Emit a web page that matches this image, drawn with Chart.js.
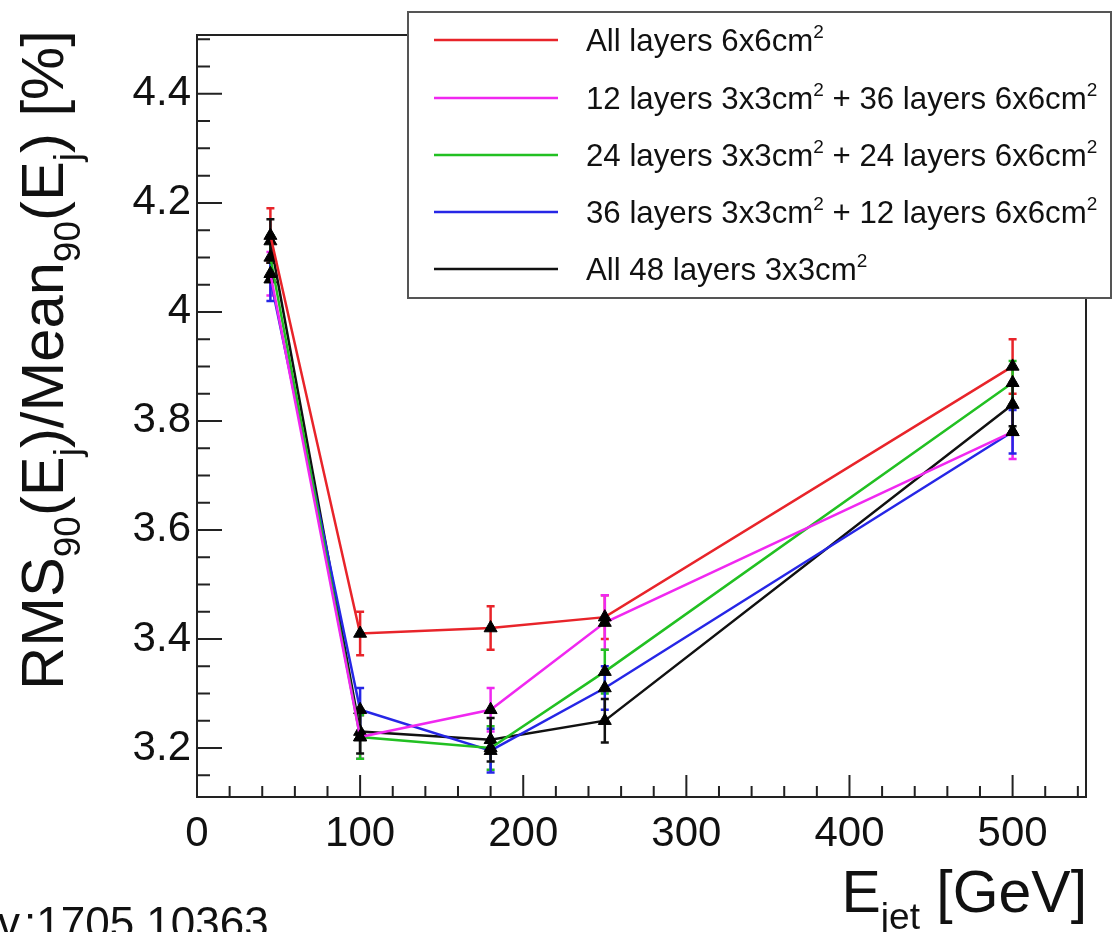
<!DOCTYPE html>
<html><head><meta charset="utf-8">
<script src="https://cdn.jsdelivr.net/npm/chart.js@4.4.1/dist/chart.umd.min.js"></script>
<style>html,body{margin:0;padding:0;background:#fff}#wrap{width:1116px;height:932px;position:relative}canvas{display:block}</style>
</head><body><div id="wrap"><canvas id="c" width="1116" height="932"></canvas></div>
<script>
// ---- data ----
const energies = [45, 100, 180, 250, 500];
const seriesLabels = [
  ['All layers 6x6cm', '2'],
  ['12 layers 3x3cm', '2', ' + 36 layers 6x6cm', '2'],
  ['24 layers 3x3cm', '2', ' + 24 layers 6x6cm', '2'],
  ['36 layers 3x3cm', '2', ' + 12 layers 6x6cm', '2'],
  ['All 48 layers 3x3cm', '2']
];
const allLayers6 = [4.14, 3.41, 3.42, 3.44, 3.90];
const layers12x3 = [4.07, 3.22, 3.27, 3.43, 3.78];
const layers24x3 = [4.10, 3.22, 3.20, 3.34, 3.87];
const layers36x3 = [4.06, 3.27, 3.195, 3.31, 3.78];
const allLayers3 = [4.13, 3.23, 3.215, 3.25, 3.83];
const errAll6 = [0.05, 0.04, 0.04, 0.04, 0.05];
const err12 = [0.04, 0.04, 0.04, 0.05, 0.05];
const err24 = [0.04, 0.04, 0.04, 0.04, 0.04];
const err36 = [0.04, 0.04, 0.04, 0.04, 0.04];
const errAll3 = [0.04, 0.04, 0.04, 0.04, 0.04];
const xTicks = [0, 100, 200, 300, 400, 500];
const yTicks = [3.2, 3.4, 3.6, 3.8, 4.0, 4.2, 4.4];

const seriesValues = [allLayers6, layers12x3, layers24x3, layers36x3, allLayers3];
const seriesErrors = [errAll6, err12, err24, err36, errAll3];
const colors = ['#e8242a', '#f028f0', '#22c022', '#2626e6', '#111111'];
const FONT = '"Liberation Sans", Arial, Helvetica, sans-serif';

const datasets = seriesValues.map((vals, i) => ({
  label: seriesLabels[i].join(''),
  data: energies.map((e, j) => ({x: e, y: vals[j]})),
  borderColor: colors[i],
  backgroundColor: colors[i],
  borderWidth: 2.5,
  pointStyle: 'triangle',
  pointRadius: 7.5,
  pointBackgroundColor: '#000',
  pointBorderColor: '#000',
  pointBorderWidth: 1,
  tension: 0,
  errors: seriesErrors[i]
}));

function drawRich(ctx, segs, x, y, size, align) {
  const widths = segs.map(s => {
    ctx.font = (s.mode === 'n' ? size : Math.round(size * 0.62)) + 'px ' + FONT;
    return ctx.measureText(s.t).width;
  });
  const total = widths.reduce((a, b) => a + b, 0);
  let cx = align === 'right' ? x - total : (align === 'center' ? x - total / 2 : x);
  segs.forEach((s, k) => {
    ctx.font = (s.mode === 'n' ? size : Math.round(size * 0.62)) + 'px ' + FONT;
    let dy = 0;
    if (s.mode === 'sub') dy = size * 0.28;
    if (s.mode === 'sup') dy = -size * 0.42;
    ctx.fillText(s.t, cx, y + dy);
    cx += widths[k];
  });
  return total;
}
function richWidth(ctx, segs, size) {
  let w = 0;
  segs.forEach(s => {
    ctx.font = (s.mode === 'n' ? size : Math.round(size * 0.62)) + 'px ' + FONT;
    w += ctx.measureText(s.t).width;
  });
  return w;
}

const rootPlugin = {
  id: 'rootStyle',
  beforeDatasetsDraw(chart) {
    const ctx = chart.ctx, xs = chart.scales.x, ys = chart.scales.y;
    ctx.save();
    chart.data.datasets.forEach((ds, i) => {
      ctx.strokeStyle = ds.borderColor;
      ctx.lineWidth = 2.5;
      ds.data.forEach((p, j) => {
        const e = ds.errors[j];
        const px = xs.getPixelForValue(p.x);
        const y1 = ys.getPixelForValue(p.y - e), y2 = ys.getPixelForValue(p.y + e);
        ctx.beginPath();
        ctx.moveTo(px, y1); ctx.lineTo(px, y2);
        ctx.moveTo(px - 4, y1); ctx.lineTo(px + 4, y1);
        ctx.moveTo(px - 4, y2); ctx.lineTo(px + 4, y2);
        ctx.stroke();
      });
    });
    ctx.restore();
  },
  afterDraw(chart) {
    const ctx = chart.ctx, xs = chart.scales.x, ys = chart.scales.y, a = chart.chartArea;
    ctx.save();
    // frame
    ctx.strokeStyle = '#222';
    ctx.lineWidth = 2;
    ctx.strokeRect(a.left, a.top, a.right - a.left, a.bottom - a.top);
    // ticks x
    ctx.beginPath();
    for (let v = 0; v <= xs.max; v += 20) {
      const px = xs.getPixelForValue(v);
      const len = (v % 100 === 0) ? 22 : 11;
      ctx.moveTo(px, a.bottom); ctx.lineTo(px, a.bottom - len);
    }
    // ticks y
    for (let k = Math.ceil(ys.min / 0.05 - 1e-6); k * 0.05 <= ys.max + 1e-9; k++) {
      const v = k * 0.05;
      const py = ys.getPixelForValue(v);
      const major = (k % 4 === 0);
      ctx.moveTo(a.left, py); ctx.lineTo(a.left + (major ? 25 : 13), py);
    }
    ctx.stroke();

    // legend box
    const L = {l: 408, t: 12, r: 1111, b: 298};
    ctx.fillStyle = '#fff';
    ctx.fillRect(L.l, L.t, L.r - L.l, L.b - L.t);
    ctx.strokeStyle = '#555';
    ctx.lineWidth = 2;
    ctx.strokeRect(L.l, L.t, L.r - L.l, L.b - L.t);
    const rows = [40, 98, 155, 212, 269];
    const segsList = seriesLabels.map(parts => parts.map((t, k) => ({t, mode: (k % 2 === 1) ? 'sup' : 'n'})));
    const longest = richWidth(ctx, segsList[1], 100);
    const lsize = 100 * 512 / longest;
    ctx.textBaseline = 'alphabetic';
    ctx.textAlign = 'left';
    segsList.forEach((segs, i) => {
      ctx.strokeStyle = colors[i];
      ctx.lineWidth = 2.5;
      ctx.beginPath(); ctx.moveTo(434, rows[i]); ctx.lineTo(558, rows[i]); ctx.stroke();
      ctx.fillStyle = '#111';
      drawRich(ctx, segs, 586, rows[i] + lsize * 0.36, lsize, 'left');
    });

    // y title
    const ySegs = [
      {t: 'RMS', mode: 'n'}, {t: '90', mode: 'sub'}, {t: '(E', mode: 'n'}, {t: 'j', mode: 'sub'},
      {t: ')/Mean', mode: 'n'}, {t: '90', mode: 'sub'}, {t: '(E', mode: 'n'}, {t: 'j', mode: 'sub'},
      {t: ') [%]', mode: 'n'}
    ];
    const ysz = 100 * 660 / richWidth(ctx, ySegs, 100);
    ctx.save();
    ctx.translate(63, 690);
    ctx.rotate(-Math.PI / 2);
    ctx.fillStyle = '#111';
    drawRich(ctx, ySegs, 0, 0, ysz, 'left');
    ctx.restore();

    // x title
    const xSegs = [{t: 'E', mode: 'n'}, {t: 'jet', mode: 'sub'}, {t: ' [GeV]', mode: 'n'}];
    const xsz = 100 * 245 / richWidth(ctx, xSegs, 100);
    ctx.fillStyle = '#111';
    drawRich(ctx, xSegs, 1087, 912, xsz, 'right');

    // source text (cut at the left edge)
    ctx.font = '44px ' + FONT;
    ctx.textAlign = 'right';
    ctx.fillText('arXiv', 20, 938);
    ctx.textAlign = 'left';
    ctx.fillText(':1705.10363', 24, 938);
    ctx.restore();
  }
};

new Chart(document.getElementById('c'), {
  type: 'line',
  data: {datasets},
  options: {
    responsive: false,
    animation: false,
    devicePixelRatio: 1,
    layout: {padding: {top: 35, right: 30, left: 0, bottom: 0}},
    plugins: {legend: {display: false}, tooltip: {enabled: false}},
    scales: {
      x: {
        type: 'linear', min: 0, max: 545,
        afterBuildTicks: s => { s.ticks = xTicks.map(v => ({value: v})); },
        afterFit: s => { s.height = 135; },
        grid: {display: false, drawTicks: false},
        border: {display: false},
        ticks: {font: {size: 42, family: FONT}, color: '#111', padding: 12, maxRotation: 0, autoSkip: false}
      },
      y: {
        type: 'linear', min: 3.11, max: 4.508,
        afterBuildTicks: s => { s.ticks = yTicks.map(v => ({value: v})); },
        afterFit: s => { s.width = 197; },
        grid: {display: false, drawTicks: false},
        border: {display: false},
        ticks: {font: {size: 42, family: FONT}, color: '#111', padding: 6, autoSkip: false,
          callback: v => String(Number(v.toFixed(1)))}
      }
    }
  },
  plugins: [rootPlugin]
});
</script>
</body></html>
